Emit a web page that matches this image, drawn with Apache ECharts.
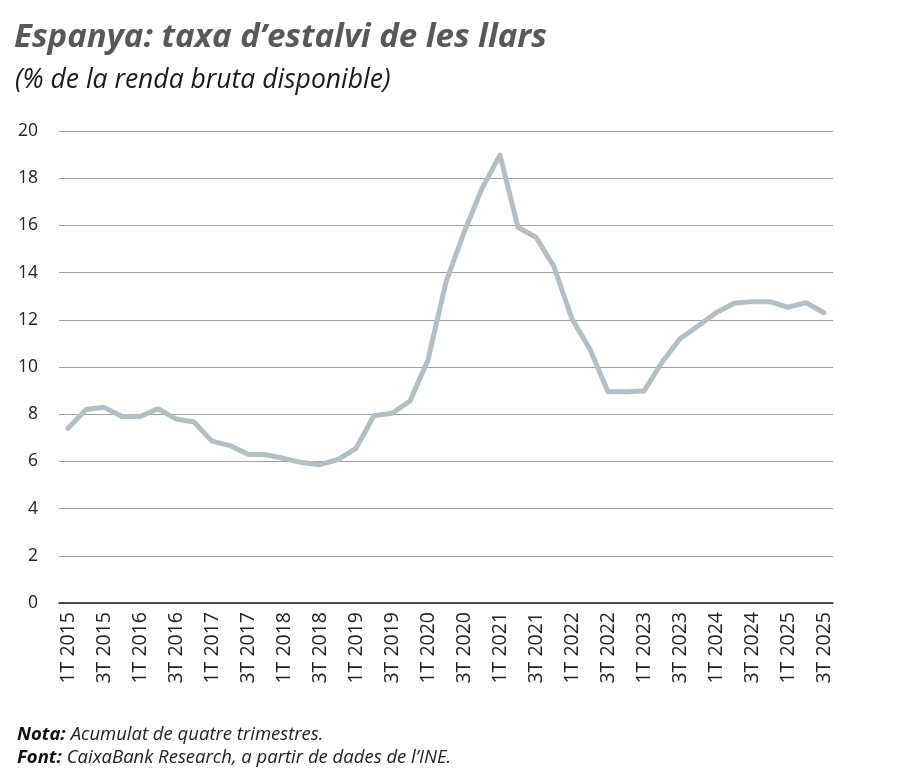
<!DOCTYPE html>
<html><head><meta charset="utf-8">
<script src="https://cdn.jsdelivr.net/npm/echarts@6/dist/echarts.min.js"></script>
<style>html,body{margin:0;padding:0;background:#fff}#c{width:900px;height:776px}</style>
</head><body><div id="c"></div>
<script>
const categories = (function(){const a=[];for(let y=2015;y<=2025;y++){for(let q=1;q<=4;q++){if(y===2025&&q>3)break;a.push(q+'T '+y);}}return a;})();
const savingsRate = [7.40,8.20,8.29,7.90,7.90,8.23,7.80,7.67,6.86,6.67,6.30,6.28,6.12,5.95,5.86,6.08,6.55,7.94,8.04,8.56,10.3,13.6,15.7,17.57,18.98,15.92,15.5,14.25,12.03,10.75,8.95,8.95,8.98,10.2,11.2,11.74,12.3,12.7,12.77,12.77,12.53,12.73,12.3];
const yTicks = [0,2,4,6,8,10,12,14,16,18,20];
const FONT = '"Open Sans", "Noto Sans", sans-serif';
const chart = echarts.init(document.getElementById('c'), null, {renderer:'canvas'});
chart.setOption({
  animation:false,
  backgroundColor:'#fff',
  title:[
    {text:'Espanya: taxa d\u2019estalvi de les llars', left:9, top:16,
     textStyle:{fontFamily:FONT, fontSize:33, fontWeight:'bold', fontStyle:'italic', color:'#585858'}},
    {text:'(% de la renda bruta disponible)', left:10, top:62,
     textStyle:{fontFamily:FONT, fontSize:26.5, fontWeight:'normal', fontStyle:'italic', color:'#1a1a1a'}},
    {text:'{b|Nota:} {n|Acumulat de quatre trimestres.}\n{b|Font:} {n|CaixaBank Research, a partir de dades de l\u2019INE.}', left:12, top:718,
     textStyle:{fontWeight:'normal', rich:{
       b:{fontFamily:FONT, fontSize:18.5, fontWeight:'bold', fontStyle:'italic', color:'#111', lineHeight:23},
       n:{fontFamily:FONT, fontSize:18.5, fontWeight:'normal', fontStyle:'italic', color:'#222', lineHeight:23}}}}
  ],
  grid:{left:59, right:67, top:131, bottom:173, containLabel:false},
  xAxis:{type:'category', data:categories, boundaryGap:true,
    axisLine:{lineStyle:{color:'#222', width:1.5}},
    axisTick:{inside:true, length:5, interval:0, lineStyle:{color:'#222', width:1.5}},
    axisLabel:{interval:1, rotate:90, margin:9, fontFamily:FONT, fontSize:19.5, color:'#222'},
    splitLine:{show:false}},
  yAxis:{type:'value', min:yTicks[0], max:yTicks[yTicks.length-1], interval:2,
    axisLine:{show:false}, axisTick:{show:false},
    axisLabel:{margin:21, fontFamily:FONT, fontSize:17.5, color:'#222'},
    splitLine:{lineStyle:{color:'#a0a0a0', width:1}}},
  series:[{type:'line', data:savingsRate, symbol:'none', smooth:false,
    lineStyle:{color:'#b3bfc2', width:5, join:'round', cap:'round'}}]
});
</script></body></html>
